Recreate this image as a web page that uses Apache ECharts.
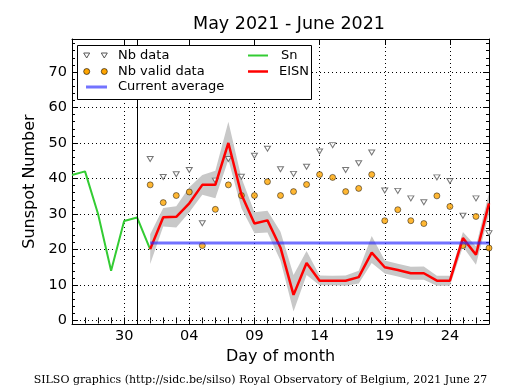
<!DOCTYPE html>
<html><head><meta charset="utf-8">
<script src="https://cdn.jsdelivr.net/npm/echarts@6/dist/echarts.min.js"></script>
<style>html,body{margin:0;padding:0;background:#fff}#c{width:515px;height:390px}</style>
</head><body><div id="c"></div>
<script>
// x coordinate = day counted from May 1 (May 31 = 31, June 1 = 32)
const snX = [26, 27, 28, 29, 30, 31, 32];
const snValues = [41, 42, 30, 14, 28, 29, 20];
const juneDays = [1,2,3,4,5,6,7,8,9,10,11,12,13,14,15,16,17,18,19,20,21,22,23,24,25,26,27];
const eisnValues = [20.1,29.1,29.2,33,38.2,38.2,50,35.5,27.3,28.2,20.5,7.2,16.2,11.2,11.2,11.2,12.2,19.1,15,14.2,13.3,13.3,11.2,11.2,23.2,18.5,33];
const bandLow  = [15.9,26.5,26.2,30.5,35.4,34.4,45.3,31.6,24.6,24.8,16.8,2.5,12.8,9.9,9.9,9.8,10.4,16.2,13.2,12.4,11.5,11.5,9.8,9.8,20.8,15.7,30];
const bandHigh = [24.3,31.7,32.2,37.5,41,42.2,56,40.2,30.5,30.9,25,12.8,19.6,12.7,12.6,12.7,14,23.8,16.9,16,15.1,15.2,12.6,12.6,24.9,20.9,36];
const nbData  = [45.5,40.4,41.2,42.4,27.4,39.4,45.5,40.5,46.4,48.4,42.6,41.3,43.3,47.6,49.4,42.4,44.3,47.3,36.6,36.5,34.4,33.3,40.3,39.3,29.5,34.4,24.6];
const nbValid = [38.2,33.2,35.2,36.2,21.1,31.3,38.2,35.2,35.2,39.1,35.2,36.3,38.3,41.1,40.3,36.3,37.2,41.1,28.1,31.2,28.1,27.3,35.1,32.1,21.1,29.3,20.4];
const currentAverage = 21.8;
const monthBoundary = 31;
const xMin = 26, xMax = 58;
const yMin = -1, yMax = 79.3;
const tickDays = [30, 35, 40, 45, 50, 55];
const tickLabels = ['30', '04', '09', '14', '19', '24'];
const yTicks = [0, 10, 20, 30, 40, 50, 60, 70];
const yMinorTicks = [0,2,4,6,8,10,12,14,16,18,20,22,24,26,28,30,32,34,36,38,40,42,44,46,48,50,52,54,56,58,60,62,64,66,68,70,72,74,76,78];
const xMinorTicks = [26,27,28,29,30,31,32,33,34,35,36,37,38,39,40,41,42,43,44,45,46,47,48,49,50,51,52,53,54,55,56,57,58];

const jx = d => monthBoundary + d;
const toPairs = arr => juneDays.map((d, i) => [jx(d), arr[i]]);

const FONT = 'DejaVu Sans';
const black = '#000';

function xAx(pos, ticks, len, opts) {
  return Object.assign({
    type: 'value', position: pos, min: xMin, max: xMax, splitNumber: 6,
    axisLine: { show: false },
    axisTick: { show: true, inside: true, length: len, customValues: ticks, lineStyle: { color: black, width: 1 } },
    axisLabel: { show: false },
    splitLine: { show: false }
  }, opts || {});
}
function yAx(pos, ticks, len, opts) {
  return Object.assign({
    type: 'value', position: pos, min: yMin, max: yMax, splitNumber: 8,
    axisLine: { show: false },
    axisTick: { show: true, inside: true, length: len, customValues: ticks, lineStyle: { color: black, width: 1 } },
    axisLabel: { show: false },
    splitLine: { show: false }
  }, opts || {});
}
const dotted = { show: true, lineStyle: { color: black, width: 1, type: [1, 3] } };

const bandData = juneDays.map((d, i) => [jx(d), bandLow[i], bandHigh[i]]);

const option = {
  animation: false,
  backgroundColor: '#fff',
  title: {
    text: 'May 2021 - June 2021', left: 289, top: 15, textAlign: 'center', padding: 0,
    textStyle: { fontFamily: FONT, fontSize: 17.5, fontWeight: 'normal', color: black }
  },
  grid: { left: 72, right: 26, top: 39, bottom: 66 },
  xAxis: [
    xAx('bottom', tickDays, 6, {
      axisLine: { show: true, onZero: false, lineStyle: { color: black, width: 1 } },
      axisLabel: { show: true, customValues: tickDays, margin: 5, fontFamily: FONT, fontSize: 14.5, color: black,
        formatter: v => tickLabels[tickDays.indexOf(v)] },
      splitLine: dotted,
      name: 'Day of month', nameLocation: 'middle', nameGap: 25,
      nameTextStyle: { fontFamily: FONT, fontSize: 16, color: black }
    }),
    xAx('bottom', xMinorTicks, 3),
    xAx('top', tickDays, 6, { axisLine: { show: true, onZero: false, lineStyle: { color: black, width: 1 } } }),
    xAx('top', xMinorTicks, 3)
  ],
  yAxis: [
    yAx('left', yTicks, 6, {
      axisLine: { show: true, onZero: false, lineStyle: { color: black, width: 1 } },
      axisLabel: { show: true, customValues: yTicks, margin: 5, fontFamily: FONT, fontSize: 14.5, color: black },
      splitLine: dotted,
      name: 'Sunspot Number', nameLocation: 'middle', nameGap: 34, nameRotate: 90,
      nameTextStyle: { fontFamily: FONT, fontSize: 16, color: black }
    }),
    yAx('left', yMinorTicks, 3),
    yAx('right', yTicks, 6, { axisLine: { show: true, onZero: false, lineStyle: { color: black, width: 1 } } }),
    yAx('right', yMinorTicks, 3)
  ],
  series: [
    { type: 'custom', name: 'band', data: bandData, silent: true, clip: true,
      encode: { x: 0, y: [1, 2] },
      renderItem: function (params, api) {
        if (params.dataIndex !== 0) return null;
        const upper = bandData.map(p => api.coord([p[0], p[2]]));
        const lower = bandData.map(p => api.coord([p[0], p[1]])).reverse();
        return { type: 'polygon', shape: { points: upper.concat(lower) },
          style: { fill: '#c8c8c8', stroke: null } };
      } },
    { type: 'line', name: 'Sn', data: snX.map((x, i) => [x, snValues[i]]), symbol: 'none',
      lineStyle: { color: '#33cc33', width: 2 },
      markLine: { silent: true, symbol: 'none', label: { show: false },
        lineStyle: { color: black, width: 1, type: 'solid' }, data: [{ xAxis: monthBoundary }] } },
    { type: 'line', name: 'EISN', data: toPairs(eisnValues), symbol: 'none',
      lineStyle: { color: '#ff0000', width: 2.5 } },
    { type: 'line', name: 'Current average', data: juneDays.map(d => [jx(d), currentAverage]), symbol: 'none',
      lineStyle: { color: 'rgba(40,40,255,0.65)', width: 3 } },
    { type: 'scatter', name: 'Nb data', data: toPairs(nbData), symbol: 'triangle', symbolRotate: 180,
      symbolSize: [6, 5], itemStyle: { color: '#fff', borderColor: '#555', borderWidth: 1 } },
    { type: 'scatter', name: 'Nb valid data', data: toPairs(nbValid), symbol: 'circle', symbolSize: 6,
      itemStyle: { color: '#ffa500', borderColor: '#000', borderWidth: 0.6 } }
  ],
  graphic: [
    { type: 'rect', z: 100, shape: { x: 77.5, y: 45.5, width: 234, height: 54 },
      style: { fill: '#fff', stroke: black, lineWidth: 1 } },
    { type: 'polygon', z: 101, shape: { points: [[83.7, 53], [89.7, 53], [86.7, 58]] }, style: { fill: '#fff', stroke: '#555', lineWidth: 1 } },
    { type: 'polygon', z: 101, shape: { points: [[101.3, 53], [107.3, 53], [104.3, 58]] }, style: { fill: '#fff', stroke: '#555', lineWidth: 1 } },
    { type: 'circle', z: 101, shape: { cx: 86.7, cy: 71.5, r: 3 }, style: { fill: '#ffa500', stroke: black, lineWidth: 0.6 } },
    { type: 'circle', z: 101, shape: { cx: 104.3, cy: 71.5, r: 3 }, style: { fill: '#ffa500', stroke: black, lineWidth: 0.6 } },
    { type: 'line', z: 101, shape: { x1: 86, y1: 87, x2: 107, y2: 87 }, style: { stroke: 'rgba(40,40,255,0.65)', lineWidth: 3 } },
    { type: 'line', z: 101, shape: { x1: 248, y1: 55.5, x2: 268, y2: 55.5 }, style: { stroke: '#33cc33', lineWidth: 2 } },
    { type: 'line', z: 101, shape: { x1: 248, y1: 71.5, x2: 268, y2: 71.5 }, style: { stroke: '#ff0000', lineWidth: 2.5 } },
    { type: 'text', z: 101, x: 118, y: 55.5, style: { text: 'Nb data', font: '13px "DejaVu Sans"', fill: black, verticalAlign: 'middle' } },
    { type: 'text', z: 101, x: 118, y: 71.5, style: { text: 'Nb valid data', font: '13px "DejaVu Sans"', fill: black, verticalAlign: 'middle' } },
    { type: 'text', z: 101, x: 118, y: 87, style: { text: 'Current average', font: '13px "DejaVu Sans"', fill: black, verticalAlign: 'middle' } },
    { type: 'text', z: 101, x: 281, y: 55.5, style: { text: 'Sn', font: '13px "DejaVu Sans"', fill: black, verticalAlign: 'middle' } },
    { type: 'text', z: 101, x: 279, y: 71.5, style: { text: 'EISN', font: '13px "DejaVu Sans"', fill: black, verticalAlign: 'middle' } },
    { type: 'text', z: 101, x: 260.5, y: 380, style: { text: 'SILSO graphics (http://sidc.be/silso) Royal Observatory of Belgium, 2021 June 27',
      font: '11px "DejaVu Serif"', fill: black, align: 'center', verticalAlign: 'middle' } }
  ]
};
const chart = echarts.init(document.getElementById('c'), null, { renderer: 'canvas' });
chart.setOption(option);
</script>
</body></html>
